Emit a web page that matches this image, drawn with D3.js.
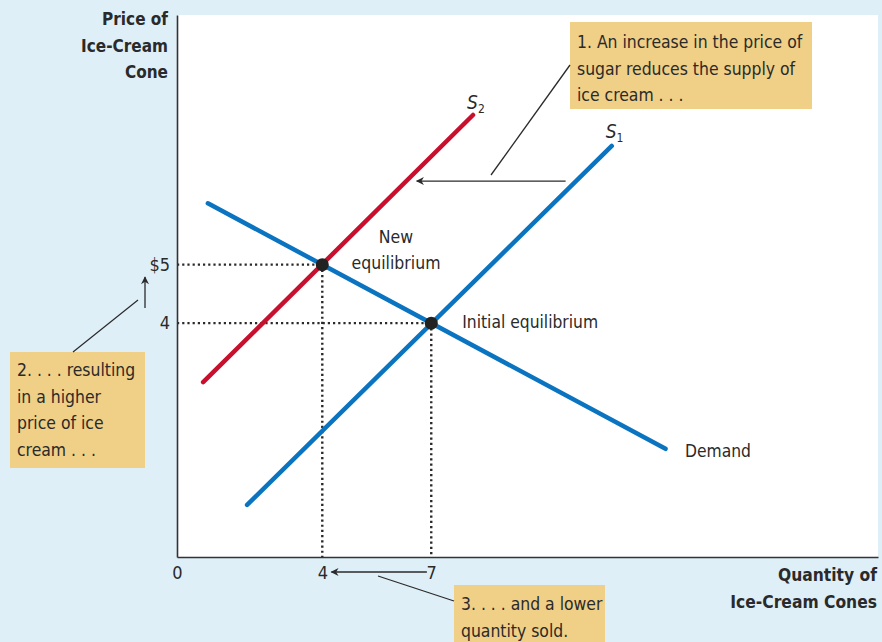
<!DOCTYPE html>
<html><head><meta charset="utf-8">
<script src="https://cdn.jsdelivr.net/npm/d3@7"></script>
<style>
html,body{margin:0;padding:0;background:#dfeff8;}
svg{display:block;}
text{font-family:"Liberation Sans Narrow","DejaVu Sans Condensed",Lato,sans-serif;fill:#2a2a2a;}
</style></head><body>
<script>
// ---- data (price in $, quantity in cones) ----
const demand = [[0.85, 6.05], [13.45, 1.85]];
const supply1 = [[1.93, 0.89], [11.97, 7.03]];
const supply2 = [[0.72, 2.99], [8.15, 7.56]];
const equilibria = [{name: "initial", q: 7, p: 4}, {name: "new", q: 4, p: 5}];
const xTicks = [0, 4, 7];
const xTickLabels = ["0", "4", "7"];
const yTicks = [5, 4];
const yTickLabels = ["$5", "4"];

const W = 882, H = 642;
const FONT = '"Liberation Sans Narrow","DejaVu Sans Condensed",Lato,sans-serif';
const svg = d3.select("body").append("svg").attr("width", W).attr("height", H);
svg.append("rect").attr("width", W).attr("height", H).attr("fill", "#dfeff8");

const x = d3.scaleLinear().domain([0, 19.3]).range([177, 878]);
const y = d3.scaleLinear().domain([0, 9.27]).range([557, 15]);

// plot area
svg.append("rect").attr("x", x(0)).attr("y", y(9.27)).attr("width", x(19.3) - x(0)).attr("height", y(0) - y(9.27)).attr("fill", "#ffffff");

// defs arrow
svg.append("defs").append("marker").attr("id", "ah").attr("viewBox", "0 0 10 10")
  .attr("refX", 9).attr("refY", 5).attr("markerWidth", 11).attr("markerHeight", 8)
  .attr("markerUnits", "userSpaceOnUse").attr("orient", "auto")
  .append("path").attr("d", "M0,0 L10,5 L0,10 L3,5 Z").attr("fill", "#2a2a2a");

// dotted guide lines
const guides = svg.append("g").attr("stroke", "#2a2a2a").attr("stroke-width", 2.4).attr("stroke-dasharray", "2.2,3");
equilibria.forEach(e => {
  guides.append("line").attr("x1", x(0)).attr("x2", x(e.q)).attr("y1", y(e.p)).attr("y2", y(e.p));
  guides.append("line").attr("x1", x(e.q)).attr("x2", x(e.q)).attr("y1", y(e.p)).attr("y2", y(0));
});

// axes
const xAxis = svg.append("g").attr("transform", `translate(0,${y(0)})`)
  .call(d3.axisBottom(x).tickValues(xTicks).tickFormat((d, i) => xTickLabels[i]).tickSize(0).tickPadding(9));
xAxis.select(".domain").attr("stroke", "#333").attr("stroke-width", 1.6);
const yAxis = svg.append("g").attr("transform", `translate(${x(0)},0)`)
  .call(d3.axisLeft(y).tickValues(yTicks).tickFormat((d, i) => yTickLabels[i]).tickSize(0).tickPadding(7));
yAxis.select(".domain").attr("stroke", "#333").attr("stroke-width", 1.6);
[xAxis, yAxis].forEach(a => a.attr("font-size", 18).attr("font-family", FONT));
svg.selectAll(".tick text").attr("fill", "#3a3a3a").attr("font-size", 18);

// curves
const line = d3.line().x(d => x(d[0])).y(d => y(d[1]));
svg.append("path").datum(demand).attr("d", line).attr("stroke", "#0b74c0").attr("stroke-width", 4.5).attr("fill", "none").attr("stroke-linecap", "round");
svg.append("path").datum(supply1).attr("d", line).attr("stroke", "#0b74c0").attr("stroke-width", 4.5).attr("fill", "none").attr("stroke-linecap", "round");
svg.append("path").datum(supply2).attr("d", line).attr("stroke", "#c8102e").attr("stroke-width", 4.5).attr("fill", "none").attr("stroke-linecap", "round");

// equilibrium dots
svg.selectAll("circle.eq").data(equilibria).join("circle").attr("class", "eq")
  .attr("cx", d => x(d.q)).attr("cy", d => y(d.p)).attr("r", 6.5).attr("fill", "#222");

// curve labels
function sLabel(px, py, sub) {
  const t = svg.append("text").attr("x", px).attr("y", py).style("font-size", "19px");
  t.append("tspan").text("S").style("font-style", "italic");
  t.append("tspan").text(sub).attr("dy", 4).style("font-size", "12px");
}
sLabel(x(8.15) - 6, y(7.56) - 6, "2");
sLabel(x(11.97) - 6, y(7.03) - 8, "1");

svg.append("text").attr("x", 396).attr("y", 243).attr("text-anchor", "middle").style("font-size", "17.5px").text("New");
svg.append("text").attr("x", 396).attr("y", 269).attr("text-anchor", "middle").style("font-size", "17.5px").text("equilibrium");
svg.append("text").attr("x", x(7) + 31).attr("y", y(4) + 5).style("font-size", "17.3px").text("Initial equilibrium");
svg.append("text").attr("x", 685).attr("y", 457).style("font-size", "17.3px").text("Demand");

// axis titles
const yt = ["Price of", "Ice-Cream", "Cone"];
yt.forEach((s, i) => svg.append("text").attr("x", 168).attr("y", 25 + i * 26.5).attr("text-anchor", "end")
  .style("font-size", "17px").style("font-weight", "bold").text(s));
const xt = ["Quantity of", "Ice-Cream Cones"];
xt.forEach((s, i) => svg.append("text").attr("x", 877).attr("y", 581 + i * 27).attr("text-anchor", "end")
  .style("font-size", "17.3px").style("font-weight", "bold").text(s));

// annotation boxes
function box(bx, by, bw, bh, lines, tx, ty) {
  svg.append("rect").attr("x", bx).attr("y", by).attr("width", bw).attr("height", bh).attr("fill", "#f0cf86");
  lines.forEach((s, i) => svg.append("text").attr("x", tx).attr("y", ty + i * 26.5).style("font-size", "17.4px").text(s));
}
box(570, 22, 242, 87, ["1. An increase in the price of", "sugar reduces the supply of", "ice cream . . ."], 577, 48);
box(10, 352, 135, 116, ["2. . . . resulting", "in a higher", "price of ice", "cream . . ."], 17, 376);
box(454, 585, 151, 57, ["3. . . . and a lower", "quantity sold."], 461, 610);

// leader lines & arrows
const ann = svg.append("g").attr("stroke", "#2a2a2a").attr("stroke-width", 1.3).attr("fill", "none");
ann.append("line").attr("x1", 491).attr("y1", 175).attr("x2", 570).attr("y2", 65);
ann.append("line").attr("x1", x(10.7)).attr("y1", y(6.43)).attr("x2", x(6.6)).attr("y2", y(6.43)).attr("marker-end", "url(#ah)");
ann.append("line").attr("x1", 73).attr("y1", 352).attr("x2", 138).attr("y2", 300);
ann.append("line").attr("x1", 145).attr("y1", y(4.26)).attr("x2", 145).attr("y2", y(4.79)).attr("marker-end", "url(#ah)");
ann.append("line").attr("x1", 378).attr("y1", 576).attr("x2", 454).attr("y2", 601);
ann.append("line").attr("x1", x(6.88)).attr("y1", 572).attr("x2", x(4.25)).attr("y2", 572).attr("marker-end", "url(#ah)");
</script>
</body></html>
